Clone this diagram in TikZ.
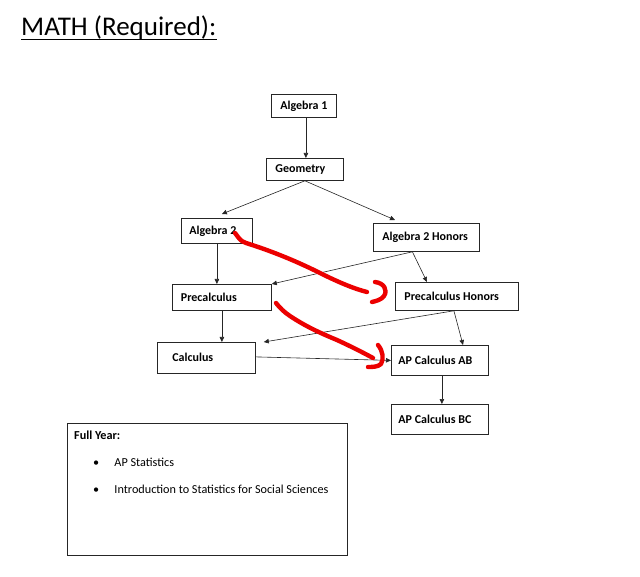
\documentclass[tikz,border=0pt]{standalone}
\usepackage{fontspec}
\setmainfont{Carlito}
\usetikzlibrary{arrows.meta}
\begin{document}
\begin{tikzpicture}[x=1pt,y=-1pt,
  box/.style={draw=black!85, line width=0.8pt, rectangle, anchor=north west,
    font=\bfseries\fontsize{12}{14}\selectfont, inner ysep=0pt},
  arr/.style={-{Triangle[length=5pt,width=4.5pt]}, line width=0.6pt, draw=black!85},
  redmark/.style={draw={rgb,255:red,236;green,0;blue,0}, line width=4.4pt, line cap=round, line join=round},
  plain/.style={anchor=west, inner sep=0pt, font=\fontsize{12.2}{14}\selectfont}
]
\useasboundingbox (0,0) rectangle (640,577);
\fill[white] (0,0) rectangle (640,577);

% title
\node[anchor=base west, inner sep=0pt, font=\fontsize{27}{30}\selectfont] (title) at (21,36) {MATH (Required):};
\draw[line width=1.3pt] ([yshift=-3.5pt]title.base west) -- ([yshift=-3.5pt]title.base east);

% boxes
\node[box, inner xsep=8pt, minimum height=23pt] (alg1) at (271,94) {\makebox[49pt][c]{Algebra 1}};
\node[box, inner xsep=9pt, minimum height=22pt] (geo) at (266,158) {\makebox[59pt][l]{Geometry}};
\node[box, inner xsep=8pt, minimum height=25pt] (alg2) at (181,218) {\makebox[55pt][l]{Algebra 2}};
\node[box, inner xsep=9pt, minimum height=28pt] (alg2h) at (373,223) {\makebox[88pt][l]{Algebra 2 Honors}};
\node[box, inner xsep=8.5pt, minimum height=26pt] (precalc) at (172,284) {\makebox[82pt][l]{Precalculus}};
\node[box, inner xsep=9pt, minimum height=28pt] (precalch) at (395,282) {\makebox[105pt][l]{Precalculus Honors}};
\node[box, inner xsep=15pt, minimum height=31pt] (calc) at (157,342) {\raisebox{2pt}{\makebox[68pt][l]{Calculus}}};
\node[box, inner xsep=7pt, minimum height=30pt] (ab) at (391,345) {\raisebox{1pt}{\makebox[83pt][l]{AP Calculus AB}}};
\node[box, inner xsep=7pt, minimum height=30pt] (bc) at (391,404) {\raisebox{1pt}{\makebox[83pt][l]{AP Calculus BC}}};

% arrows
\draw[arr] ([xshift=2pt]alg1.south) -- ([xshift=2pt]alg1.south |- geo.north);
\draw[arr] (geo.south) -- ([xshift=5pt,yshift=4pt]alg2.north);
\draw[arr] (geo.south) -- ([xshift=22pt,yshift=3pt]alg2h.north west);
\draw[arr] (alg2.south) -- (alg2.south |- precalc.north);
\draw[arr] ([xshift=-14pt]alg2h.south) -- (precalc.north east);
\draw[arr] ([xshift=-14pt]alg2h.south) -- ([xshift=32pt]precalch.north west);
\draw[arr] (precalc.south) -- (precalc.south |- calc.north);
\draw[arr] ([xshift=-3pt]precalch.south) -- ([xshift=8pt]calc.north east);
\draw[arr] ([xshift=-3pt]precalch.south) -- ([xshift=72pt]ab.north west);
\draw[arr] ([yshift=1pt]calc.east) -- (ab.west);
\draw[arr] ([xshift=2pt]ab.south) -- ([xshift=2pt]ab.south |- bc.north);

% full year box
\node[draw=black!85, line width=0.8pt, anchor=north west, minimum width=280pt, minimum height=132pt, inner sep=0pt] (fybox) at (67,423) {};
\node[plain, font=\bfseries\fontsize{12.2}{14}\selectfont] (fyt) at (74,435) {Full Year:};
\node[plain] (b1) at (93,462.7) {\makebox[21.3pt][l]{•}AP Statistics};
\node[plain] (b2) at (93,489.3) {\makebox[21.3pt][l]{•}Introduction to Statistics for Social Sciences};

% red hand-drawn marks
\draw[redmark] (235,233) .. controls (239,238) and (240,241) .. (246,243)
  .. controls (265,249) and (290,258) .. (320,273)
  .. controls (340,283) and (355,289) .. (367,292);
\draw[redmark] (375,282) .. controls (384,283) and (388,290) .. (384,296)
  .. controls (381,300) and (376,301) .. (372,302);
\draw[redmark] (276,303) .. controls (280,308) and (284,312) .. (290,316)
  .. controls (305,326) and (320,333) .. (337,340)
  .. controls (350,346) and (362,352) .. (373,358);
\draw[redmark] (378,345) .. controls (383,351) and (384,359) .. (381,364)
  .. controls (378,367) and (372,367) .. (368,367);
\end{tikzpicture}
\end{document}
